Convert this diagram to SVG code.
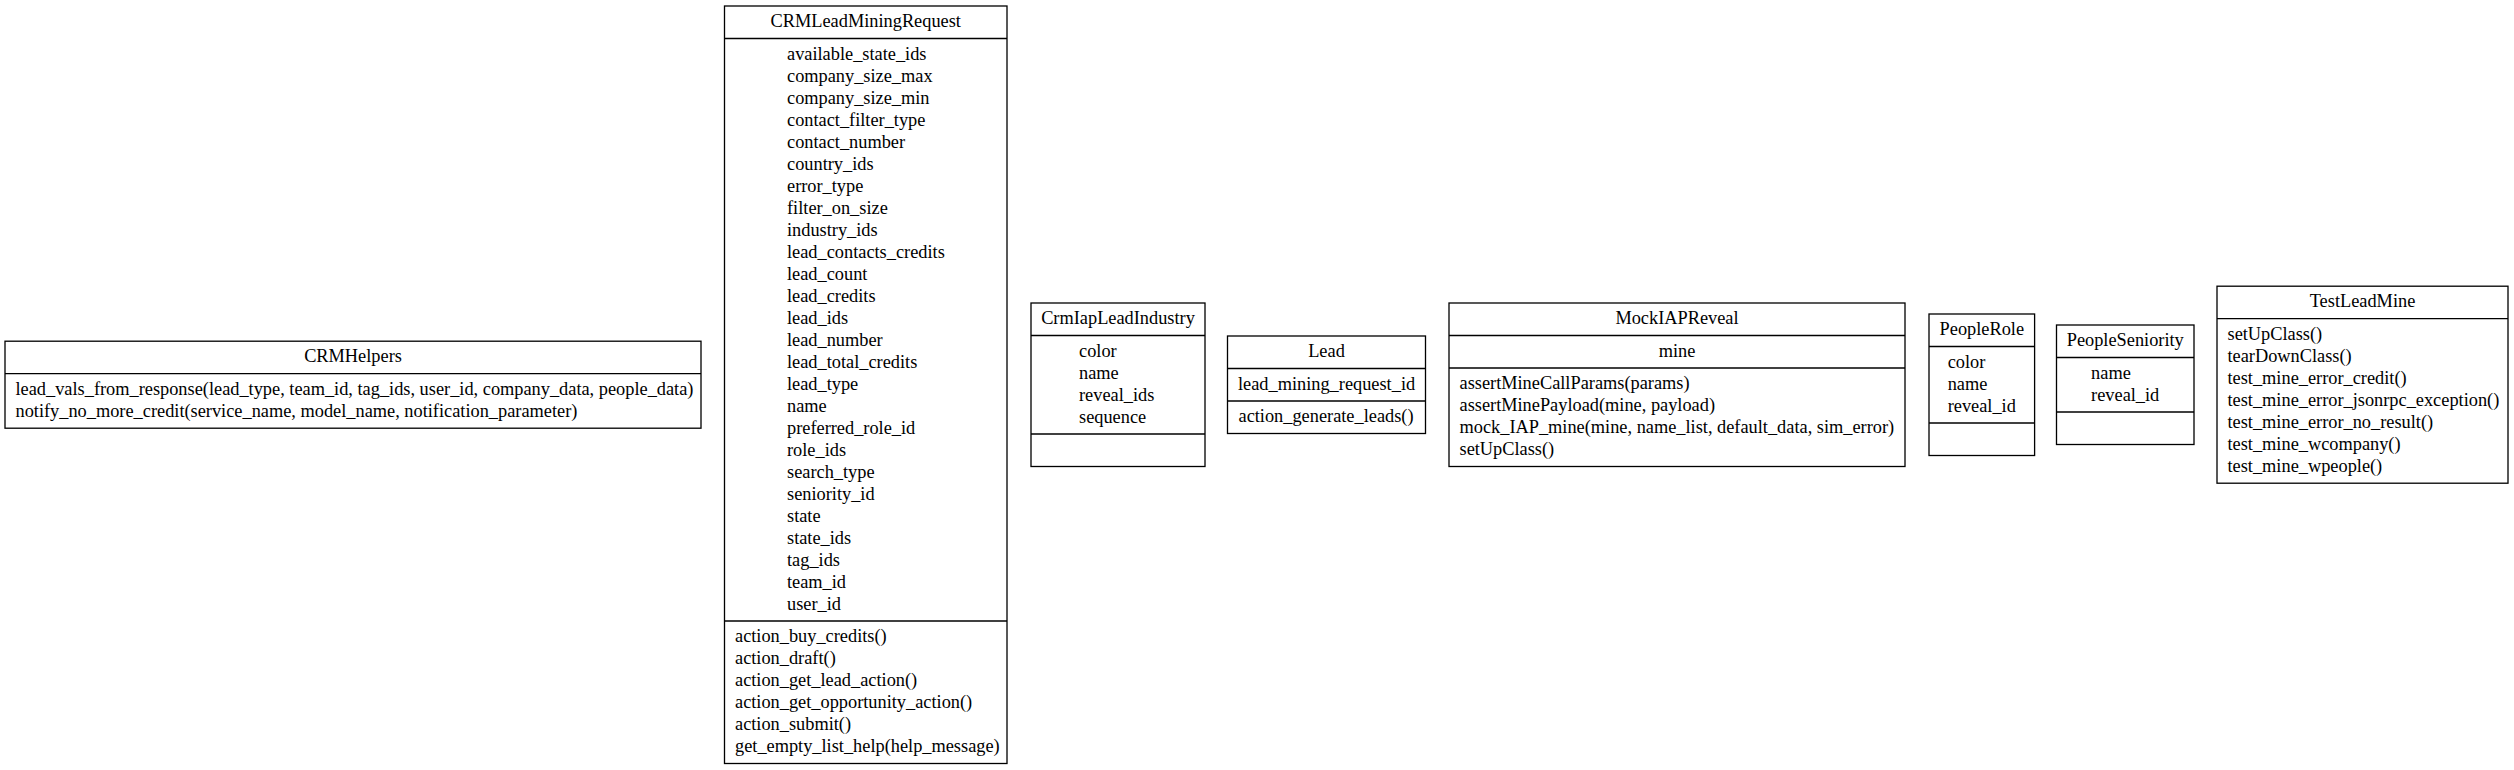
<svg xmlns="http://www.w3.org/2000/svg" width="2514" height="770" viewBox="0 0 2514 770">
<style>
.box{fill:#fff;stroke:#000;stroke-width:1.31}
.div{stroke:#000;stroke-width:1.31}
text{font-family:"Liberation Serif","Times New Roman",serif;font-size:18.34px;fill:#000}
.c{text-anchor:middle}
</style>
<rect width="2514" height="770" fill="#fff"/>
<g id="connectors"></g>

<g id="CRMHelpers">
<rect class="box" x="5" y="341.2" width="696" height="87"/>
<line class="div" x1="5" y1="373.7" x2="701" y2="373.7"/>
<text class="c" x="353" y="362.3">CRMHelpers</text>
<text x="15.5" y="394.8">lead_vals_from_response(lead_type, team_id, tag_ids, user_id, company_data, people_data)</text>
<text x="15.5" y="416.8">notify_no_more_credit(service_name, model_name, notification_parameter)</text>
</g>

<g id="CRMLeadMiningRequest">
<rect class="box" x="724.5" y="6" width="282.5" height="757.5"/>
<line class="div" x1="724.5" y1="38.5" x2="1007" y2="38.5"/>
<line class="div" x1="724.5" y1="621" x2="1007" y2="621"/>
<text class="c" x="865.75" y="27.1">CRMLeadMiningRequest</text>
<text x="787" y="59.6">available_state_ids</text>
<text x="787" y="81.6">company_size_max</text>
<text x="787" y="103.6">company_size_min</text>
<text x="787" y="125.6">contact_filter_type</text>
<text x="787" y="147.6">contact_number</text>
<text x="787" y="169.6">country_ids</text>
<text x="787" y="191.6">error_type</text>
<text x="787" y="213.6">filter_on_size</text>
<text x="787" y="235.6">industry_ids</text>
<text x="787" y="257.6">lead_contacts_credits</text>
<text x="787" y="279.6">lead_count</text>
<text x="787" y="301.6">lead_credits</text>
<text x="787" y="323.6">lead_ids</text>
<text x="787" y="345.6">lead_number</text>
<text x="787" y="367.6">lead_total_credits</text>
<text x="787" y="389.6">lead_type</text>
<text x="787" y="411.6">name</text>
<text x="787" y="433.6">preferred_role_id</text>
<text x="787" y="455.6">role_ids</text>
<text x="787" y="477.6">search_type</text>
<text x="787" y="499.6">seniority_id</text>
<text x="787" y="521.6">state</text>
<text x="787" y="543.6">state_ids</text>
<text x="787" y="565.6">tag_ids</text>
<text x="787" y="587.6">team_id</text>
<text x="787" y="609.6">user_id</text>
<text x="735" y="642.1">action_buy_credits()</text>
<text x="735" y="664.1">action_draft()</text>
<text x="735" y="686.1">action_get_lead_action()</text>
<text x="735" y="708.1">action_get_opportunity_action()</text>
<text x="735" y="730.1">action_submit()</text>
<text x="735" y="752.1">get_empty_list_help(help_message)</text>
</g>

<g id="CrmIapLeadIndustry">
<rect class="box" x="1031" y="303" width="174" height="163.5"/>
<line class="div" x1="1031" y1="335.5" x2="1205" y2="335.5"/>
<line class="div" x1="1031" y1="434" x2="1205" y2="434"/>
<text class="c" x="1118" y="324.1">CrmIapLeadIndustry</text>
<text x="1079" y="356.6">color</text>
<text x="1079" y="378.6">name</text>
<text x="1079" y="400.6">reveal_ids</text>
<text x="1079" y="422.6">sequence</text>
</g>

<g id="Lead">
<rect class="box" x="1227.5" y="336" width="198" height="97.5"/>
<line class="div" x1="1227.5" y1="368.5" x2="1425.5" y2="368.5"/>
<line class="div" x1="1227.5" y1="401" x2="1425.5" y2="401"/>
<text class="c" x="1326.5" y="357.1">Lead</text>
<text x="1238" y="389.6">lead_mining_request_id</text>
<text x="1238.5" y="422.1">action_generate_leads()</text>
</g>

<g id="MockIAPReveal">
<rect class="box" x="1449" y="303" width="456" height="163.5"/>
<line class="div" x1="1449" y1="335.5" x2="1905" y2="335.5"/>
<line class="div" x1="1449" y1="368" x2="1905" y2="368"/>
<text class="c" x="1677" y="324.1">MockIAPReveal</text>
<text class="c" x="1677" y="356.6">mine</text>
<text x="1459.5" y="389.1">assertMineCallParams(params)</text>
<text x="1459.5" y="411.1">assertMinePayload(mine, payload)</text>
<text x="1459.5" y="433.1">mock_IAP_mine(mine, name_list, default_data, sim_error)</text>
<text x="1459.5" y="455.1">setUpClass()</text>
</g>

<g id="PeopleRole">
<rect class="box" x="1929" y="314" width="105.6" height="141.5"/>
<line class="div" x1="1929" y1="346.5" x2="2034.6" y2="346.5"/>
<line class="div" x1="1929" y1="423" x2="2034.6" y2="423"/>
<text class="c" x="1981.8" y="335.1">PeopleRole</text>
<text x="1947.7" y="367.6">color</text>
<text x="1947.7" y="389.6">name</text>
<text x="1947.7" y="411.6">reveal_id</text>
</g>

<g id="PeopleSeniority">
<rect class="box" x="2056.5" y="325" width="137.5" height="119.5"/>
<line class="div" x1="2056.5" y1="357.5" x2="2194" y2="357.5"/>
<line class="div" x1="2056.5" y1="412" x2="2194" y2="412"/>
<text class="c" x="2125.25" y="346.1">PeopleSeniority</text>
<text x="2091.1" y="378.6">name</text>
<text x="2091.1" y="400.6">reveal_id</text>
</g>

<g id="TestLeadMine">
<rect class="box" x="2217" y="286.2" width="291" height="197"/>
<line class="div" x1="2217" y1="318.7" x2="2508" y2="318.7"/>
<text class="c" x="2362.5" y="307.3">TestLeadMine</text>
<text x="2227.5" y="339.8">setUpClass()</text>
<text x="2227.5" y="361.8">tearDownClass()</text>
<text x="2227.5" y="383.8">test_mine_error_credit()</text>
<text x="2227.5" y="405.8">test_mine_error_jsonrpc_exception()</text>
<text x="2227.5" y="427.8">test_mine_error_no_result()</text>
<text x="2227.5" y="449.8">test_mine_wcompany()</text>
<text x="2227.5" y="471.8">test_mine_wpeople()</text>
</g>
</svg>
